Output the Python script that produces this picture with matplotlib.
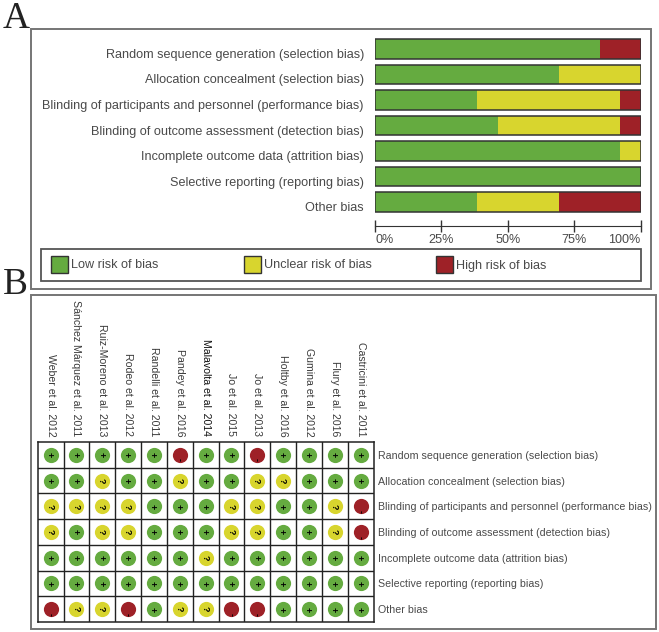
import matplotlib
matplotlib.use('Agg')
import matplotlib.pyplot as plt
from matplotlib.patches import Rectangle

plt.rcParams['font.family'] = ['Liberation Sans', 'DejaVu Sans']

DOMAINS = ["Random sequence generation (selection bias)",
           "Allocation concealment (selection bias)",
           "Blinding of participants and personnel (performance bias)",
           "Blinding of outcome assessment (detection bias)",
           "Incomplete outcome data (attrition bias)",
           "Selective reporting (reporting bias)",
           "Other bias"]
low_risk     = [84.6, 69.2, 38.5, 46.2, 92.3, 100.0, 38.5]
unclear_risk = [0.0, 30.8, 53.8, 46.1, 7.7, 0.0, 30.7]
high_risk    = [15.4, 0.0, 7.7, 7.7, 0.0, 0.0, 30.8]
pct_ticks = [0, 25, 50, 75, 100]

STUDIES = ["Weber et al. 2012", "Sánchez Márquez et al. 2011", "Ruiz-Moreno et al. 2013",
           "Rodeo et al. 2012", "Randelli et al. 2011", "Pandey et al. 2016",
           "Malavolta et al. 2014", "Jo et al. 2015", "Jo et al. 2013",
           "Holtby et al. 2016", "Gumina et al. 2012", "Flury et al. 2016",
           "Castricini et al. 2011"]
# one string per domain, one character per study
JUDGEMENTS = ["+++++-++-++++",
              "++?++?++??+++",
              "????+++??++?-",
              "?+??+++??++?-",
              "++++++?++++++",
              "+++++++++++++",
              "-??-+??--++++"]

GREEN = '#65AB40'
YELLOW = '#D8D52E'
RED = '#9E2127'
TEXT = '#4a4a4a'
FRAME = '#757575'
W, H = 659, 632

def px_axes(fig, left, top, right, bottom):
    return fig.add_axes([left / W, 1 - bottom / H, (right - left) / W, (bottom - top) / H])

def px_frame(fig, left, top, right, bottom, lw=1.4, ec=FRAME):
    fig.add_artist(Rectangle((left / W, 1 - bottom / H), (right - left) / W, (bottom - top) / H,
                             transform=fig.transFigure, fill=False, ec=ec, lw=lw))

fig = plt.figure(figsize=(W / 100, H / 100), dpi=100)

px_frame(fig, 31, 29, 651, 289)
px_frame(fig, 31, 295, 656, 629)

fig.text(3 / W, 1 - 28 / H, "A", family='Liberation Serif', fontsize=27, color='#222222')
fig.text(3 / W, 1 - 294 / H, "B", family='Liberation Serif', fontsize=27, color='#222222')

# summary bars
ax = px_axes(fig, 375, 36, 640.5, 215)
pos = range(len(DOMAINS))
left2 = [a + b for a, b in zip(low_risk, unclear_risk)]
ax.barh(pos, low_risk, height=0.76, color=GREEN)
ax.barh(pos, unclear_risk, left=low_risk, height=0.76, color=YELLOW)
ax.barh(pos, high_risk, left=left2, height=0.76, color=RED)
ax.barh(pos, [100] * len(DOMAINS), height=0.76, fill=False, ec='#333333', lw=1.1)
ax.set_xlim(0, 100)
ax.set_ylim(len(DOMAINS) - 0.5, -0.5)
ax.axis('off')
for i, name in enumerate(DOMAINS):
    ax.annotate(name, (0, i), xytext=(-11, -6), xycoords=('data', 'data'), textcoords='offset pixels',
                ha='right', va='center', fontsize=9.1, color=TEXT)

# percentage scale under the bars
ax_scale = px_axes(fig, 375, 226, 640.5, 232)
ax_scale.set_xlim(0, 100)
ax_scale.set_yticks([])
ax_scale.set_facecolor('none')
for side in ['left', 'right', 'bottom']:
    ax_scale.spines[side].set_visible(False)
ax_scale.spines['top'].set_color('#333333')
ax_scale.set_xticks(pct_ticks, [f"{t}%" for t in pct_ticks])
ax_scale.xaxis.set_ticks_position('top')
ax_scale.tick_params(axis='x', direction='inout', length=9, width=1, color='#333333',
                     labelsize=9.1, labelcolor=TEXT, labeltop=False, labelbottom=True, pad=-3)
labels = ax_scale.get_xticklabels()
labels[0].set_ha('left')
labels[-1].set_ha('right')

# legend strip
px_frame(fig, 41, 249, 641, 281, lw=1.3, ec='#555555')
legend_items = [("Low risk of bias", GREEN, 51), ("Unclear risk of bias", YELLOW, 244),
                ("High risk of bias", RED, 436)]
for label, colour, x in legend_items:
    fig.add_artist(Rectangle((x / W, 1 - 273 / H), 17 / W, 17 / H, transform=fig.transFigure,
                             fc=colour, ec='#333333', lw=1))
    fig.text((x + 20) / W, 1 - 265.5 / H, label, fontsize=9.1, color=TEXT, va='center')

# judgement grid
ax2 = px_axes(fig, 37.7, 442, 373.5, 622)
ax2.set_xlim(-0.5, len(STUDIES) - 0.5)
ax2.set_ylim(len(DOMAINS) - 0.5, -0.5)
ax2.set_xticks([i - 0.5 for i in range(1, len(STUDIES))], minor=True)
ax2.set_yticks([i - 0.5 for i in range(1, len(DOMAINS))], minor=True)
ax2.grid(which='minor', color='#222222', lw=1)
ax2.tick_params(which='both', length=0)
for s in ax2.spines.values():
    s.set_color('#222222')
    s.set_linewidth(1.1)
ax2.xaxis.tick_top()
ax2.set_xticks(range(len(STUDIES)), STUDIES, rotation=270, fontsize=7.6, color='#3a3a3a', ha='center', va='bottom')
ax2.get_xticklabels()[6].set_color('#111111')
ax2.tick_params(axis='x', which='major', pad=4)
ax2.yaxis.tick_right()
ax2.set_yticks(range(len(DOMAINS)), DOMAINS, fontsize=7.7, color=TEXT)
ax2.tick_params(axis='y', which='major', pad=3)

colours = {'+': GREEN, '?': YELLOW, '-': RED}
for r, row in enumerate(JUDGEMENTS):
    for c, mark in enumerate(row):
        ax2.scatter(c, r, s=120, color=colours[mark], lw=0, zorder=3)
        # symbols run sideways, same as the study names above them
        dx = -0.06 if mark == '+' else -0.03
        dy = 0.2 if mark == '-' else 0
        ax2.text(c + dx, r + dy, mark, ha='center', va='center', fontsize=6.5,
                 fontweight='bold', rotation=270, color='#000000', zorder=4)

fig.savefig('out.png', dpi=100)
